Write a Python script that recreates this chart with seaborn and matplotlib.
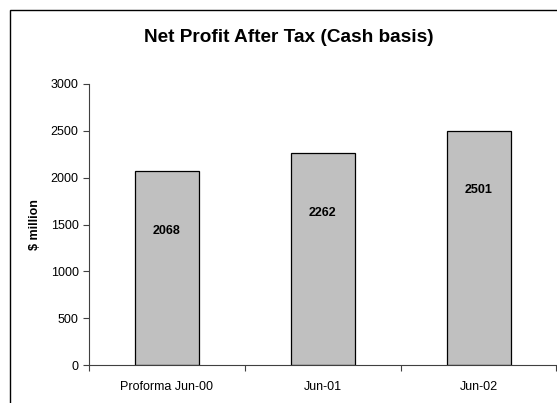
import matplotlib
matplotlib.use("Agg")
import matplotlib.pyplot as plt
import seaborn as sns
from matplotlib.patches import Rectangle

# data
periods = ["Proforma Jun-00", "Jun-01", "Jun-02"]
profit = [2068, 2262, 2501]
y_ticks = [0, 500, 1000, 1500, 2000, 2500, 3000]

sns.set_theme(style="white")
plt.rcParams["font.family"] = ["Liberation Sans", "DejaVu Sans"]
plt.rcParams["text.color"] = "black"
plt.rcParams["xtick.color"] = "black"
plt.rcParams["ytick.color"] = "black"

W, H = 557, 403
fig = plt.figure(figsize=(W / 100, H / 100), dpi=100)
fig.patch.set_facecolor("white")

# chart-area border (cropped on the right and bottom)
fig.patches.append(Rectangle((10 / W, -0.1), 1.2, (H - 10) / H + 0.1,
                             transform=fig.transFigure, fill=False,
                             edgecolor="black", linewidth=1.0))

ax = fig.add_axes([89 / W, (H - 365) / H, (556.5 - 89) / W, (365 - 84) / H])

sns.barplot(x=periods, y=profit, color="#C0C0C0", edgecolor="black",
            linewidth=0.9, width=0.41, saturation=1, ax=ax)

ax.set_xlim(-0.5, 2.5)
ax.set_ylim(0, 3000)
ax.set_yticks(y_ticks)
ax.set_yticklabels([str(v) for v in y_ticks], fontsize=9)
ax.tick_params(axis="y", length=4, width=0.8, color="#404040", pad=3.5, left=True)
ax.set_xticks(range(len(periods)))
ax.set_xticklabels(periods, fontsize=9)
ax.tick_params(axis="x", which="major", length=0, pad=11.5)
ax.set_xticks([-0.5, 0.5, 1.5, 2.5], minor=True)
ax.tick_params(axis="x", which="minor", length=4, width=0.8, color="#404040",
               bottom=True)

for side in ["top", "right"]:
    ax.spines[side].set_visible(False)
for side in ["left", "bottom"]:
    ax.spines[side].set_color("#404040")
    ax.spines[side].set_linewidth(0.8)

ax.set_xlabel("")
ax.set_ylabel("")
fig.text(35 / W, 1 - 225 / H, "$ million", rotation=90, ha="center",
         va="center", fontsize=9, fontweight="bold")

for i, v in enumerate(profit):
    ax.annotate(str(v), (i, v), xytext=(0, -43), textcoords="offset points",
                ha="center", va="center", fontsize=9, fontweight="bold",
                color="black")

fig.text(288.5 / W, 1 - 37 / H, "Net Profit After Tax (Cash basis)",
         ha="center", va="center", fontsize=13.7, fontweight="bold")

fig.savefig("out.png", dpi=100)
